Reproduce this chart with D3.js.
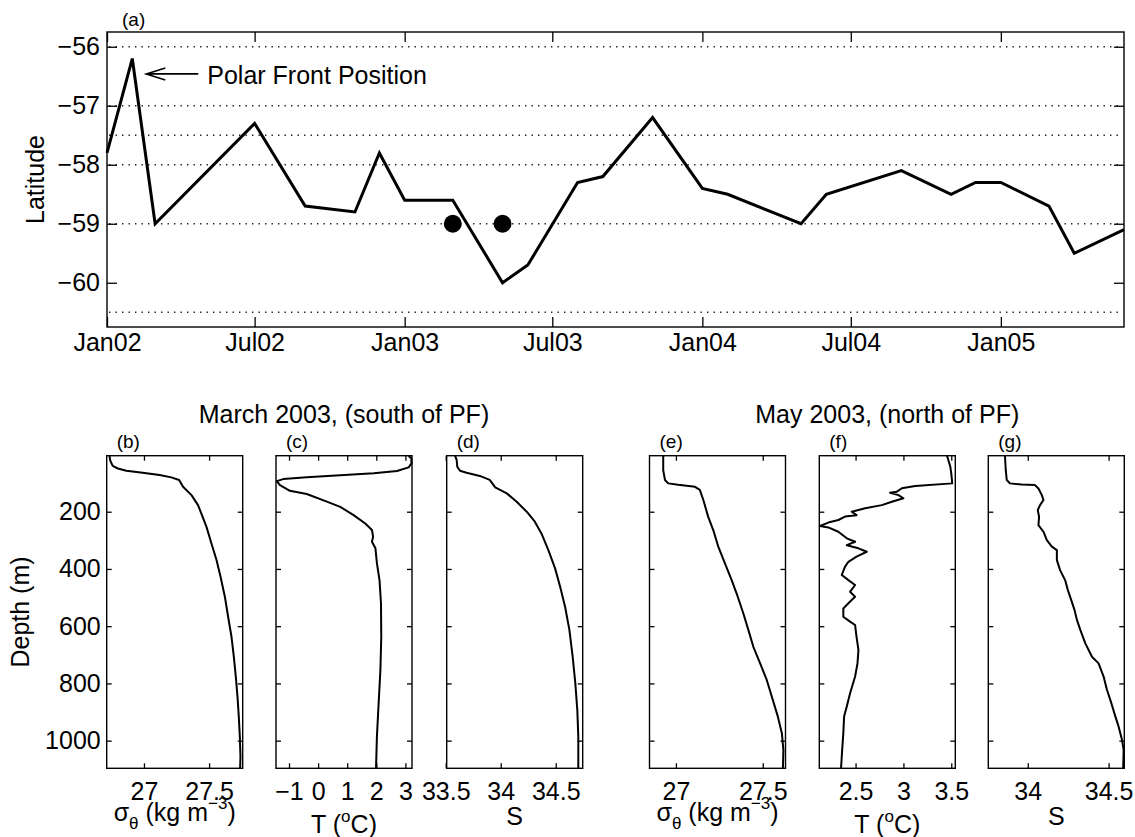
<!DOCTYPE html>
<html>
<head>
<meta charset="utf-8">
<script src="https://cdn.jsdelivr.net/npm/d3@7"></script>
<style>
  body { margin: 0; background: #fff; }
  text { font-family: "Liberation Sans", Arial, Helvetica, sans-serif; fill: #000; }
</style>
</head>
<body>
<div id="chart"></div>
<script>
// ---- (a) polar front position ----
const pfDates = ["2002-01-01","2002-02-01","2002-03-01","2002-07-01","2002-09-01","2002-11-01",
                 "2002-12-01","2003-01-01","2003-03-01","2003-05-01","2003-06-01","2003-08-01",
                 "2003-09-01","2003-11-01","2004-01-01","2004-02-01","2004-05-01","2004-06-01",
                 "2004-09-01","2004-11-01","2004-12-01","2005-01-01","2005-03-01","2005-04-01",
                 "2005-06-01"];
const pfLat = [-57.8, -56.2, -59.0, -57.3, -58.7, -58.8,
               -57.8, -58.6, -58.6, -60.0, -59.7, -58.3,
               -58.2, -57.2, -58.4, -58.5, -59.0, -58.5,
               -58.1, -58.5, -58.3, -58.3, -58.7, -59.5,
               -59.1];
const stationDates = ["2003-03-01", "2003-05-01"];
const stationLat = [-59, -59];
const gridLats = [-56, -57, -57.5, -58, -59, -60.5];
const latTicks = [-60, -59, -58, -57, -56];
const timeTicks = ["2002-01-01","2002-07-01","2003-01-01","2003-07-01","2004-01-01","2004-07-01","2005-01-01"];

// ---- March 2003 profiles (south of PF) ----
const bDepth = [4, 20, 40, 49, 57, 64, 72, 80, 89, 113, 142, 177, 206, 253, 311, 369, 427, 497, 567, 637, 707, 776, 846, 916, 986, 1056, 1097];
const bSigma = [26.736, 26.74, 26.76, 26.80, 26.865, 26.99, 27.12, 27.21, 27.27, 27.30, 27.365, 27.415, 27.44, 27.48, 27.518, 27.557, 27.588, 27.621, 27.646, 27.672, 27.69, 27.705, 27.718, 27.728, 27.736, 27.741, 27.738];

const cDepth = [5, 13, 31, 45, 58, 66, 73, 80, 86, 93, 107, 127, 138, 165, 183, 212, 241, 264, 287, 305, 328, 380, 439, 520, 637, 753, 869, 986, 1097];
const cTemp = [3.11, 3.20, 3.21, 3.11, 2.71, 1.91, 0.76, -0.39, -1.2, -1.42, -1.31, -0.97, -0.39, 0.30, 0.76, 1.22, 1.62, 1.85, 1.89, 1.85, 1.97, 2.02, 2.11, 2.16, 2.17, 2.14, 2.08, 2.02, 1.99];

const dDepth = [4, 20, 43, 57, 64, 75, 89, 115, 136, 165, 200, 235, 276, 334, 398, 462, 532, 613, 707, 800, 893, 986, 1097];
const dSal = [33.585, 33.60, 33.605, 33.63, 33.69, 33.81, 33.90, 33.95, 34.055, 34.145, 34.236, 34.31, 34.37, 34.433, 34.494, 34.54, 34.585, 34.624, 34.654, 34.678, 34.696, 34.705, 34.705];

// ---- May 2003 profiles (north of PF) ----
const eDepth = [4, 55, 89, 101, 106, 113, 124, 159, 218, 264, 322, 381, 439, 497, 555, 613, 672, 730, 788, 846, 916, 974, 1033, 1097];
const eSigma = [26.927, 26.927, 26.937, 26.956, 27.013, 27.11, 27.138, 27.158, 27.186, 27.215, 27.244, 27.283, 27.321, 27.356, 27.388, 27.417, 27.446, 27.485, 27.523, 27.552, 27.587, 27.61, 27.619, 27.616];

const fDepth = [4, 20, 43, 66, 101, 110, 118, 130, 134, 142, 153, 165, 177, 188, 200, 212, 217, 229, 238, 250, 255, 270, 293, 305, 317, 328, 340, 357, 375, 392, 421, 439, 456, 480, 497, 520, 538, 567, 584, 596, 637, 683, 730, 776, 835, 881, 916, 974, 1032, 1097];
const fTemp = [3.455, 3.47, 3.49, 3.50, 3.51, 3.123, 2.984, 2.931, 2.861, 2.948, 3.0, 2.879, 2.774, 2.60, 2.46, 2.51, 2.39, 2.32, 2.215, 2.128, 2.215, 2.32, 2.408, 2.495, 2.408, 2.53, 2.617, 2.51, 2.425, 2.39, 2.356, 2.425, 2.495, 2.442, 2.495, 2.425, 2.372, 2.372, 2.442, 2.495, 2.51, 2.53, 2.52, 2.495, 2.442, 2.408, 2.38, 2.372, 2.36, 2.348];

const gDepth = [4, 55, 89, 101, 105, 107, 119, 142, 159, 177, 194, 218, 247, 270, 299, 322, 334, 369, 404, 439, 474, 509, 543, 578, 613, 660, 707, 730, 776, 823, 869, 916, 951, 998, 1033, 1097];
const gSal = [33.859, 33.864, 33.87, 33.89, 33.963, 34.045, 34.066, 34.087, 34.097, 34.076, 34.062, 34.07, 34.066, 34.097, 34.118, 34.149, 34.18, 34.18, 34.2, 34.231, 34.248, 34.269, 34.289, 34.304, 34.325, 34.356, 34.397, 34.438, 34.469, 34.49, 34.517, 34.542, 34.562, 34.583, 34.593, 34.59];

const depthTicks = [200, 400, 600, 800, 1000];

const parse = d3.utcParse("%Y-%m-%d");
const numFmt = d3.format("");
const fs = 25;

const svg = d3.select("#chart").append("svg")
    .attr("width", 1135).attr("height", 837);

// ================= top panel =================
const topL = 107, topR = 1124, topT = 32, topB = 327;

const x = d3.scaleUtc()
    .domain([parse("2002-01-01"), parse("2005-06-01")])
    .range([topL, topR]);
const y = d3.scaleLinear().domain([-60.75, -55.75]).range([topB, topT]);

const topG = svg.append("g");

// dotted reference lines
topG.selectAll(".grid").data(gridLats).join("line")
    .attr("x1", topL + 2).attr("x2", topR - 2)
    .attr("y1", d => y(d)).attr("y2", d => y(d))
    .attr("stroke", "#222").attr("stroke-width", 1.4)
    .attr("stroke-dasharray", "1.4 5.1");

function styleAxis(g) {
    g.select(".domain").remove();
    g.selectAll("line").attr("stroke", "#000").attr("stroke-width", 1.3);
    g.attr("font-family", null);
}

topG.append("g").attr("transform", `translate(0,${topB})`)
    .call(d3.axisBottom(x).tickValues(timeTicks.map(parse))
        .tickFormat(d3.utcFormat("%b%y")).tickSizeInner(-10).tickSizeOuter(0).tickPadding(6))
    .call(styleAxis)
    .attr("font-size", fs);
topG.append("g").attr("transform", `translate(0,${topT})`)
    .call(d3.axisTop(x).tickValues(timeTicks.map(parse)).tickFormat("").tickSizeInner(-10).tickSizeOuter(0))
    .call(styleAxis);
topG.append("g").attr("transform", `translate(${topL},0)`)
    .call(d3.axisLeft(y).tickValues(latTicks).tickFormat(numFmt).tickSizeInner(-10).tickSizeOuter(0).tickPadding(7))
    .call(styleAxis)
    .attr("font-size", fs);
topG.append("g").attr("transform", `translate(${topR},0)`)
    .call(d3.axisRight(y).tickValues(latTicks).tickFormat("").tickSizeInner(-10).tickSizeOuter(0))
    .call(styleAxis);

topG.append("rect")
    .attr("x", topL).attr("y", topT).attr("width", topR - topL).attr("height", topB - topT)
    .attr("fill", "none").attr("stroke", "#000").attr("stroke-width", 1.4);

const pf = pfDates.map((d, i) => ({ date: parse(d), lat: pfLat[i] }));
topG.append("path")
    .datum(pf)
    .attr("fill", "none").attr("stroke", "#000").attr("stroke-width", 3)
    .attr("stroke-linejoin", "miter")
    .attr("d", d3.line().x(d => x(d.date)).y(d => y(d.lat)));

topG.selectAll(".station").data(stationDates).join("circle")
    .attr("cx", d => x(parse(d))).attr("cy", (d, i) => y(stationLat[i]))
    .attr("r", 9).attr("fill", "#000");

// arrow annotation pointing at the Feb 2002 peak
const tipX = x(parse("2002-02-01")) + 14, tipY = y(-56.46);
topG.append("path")
    .attr("d", `M${tipX + 52},${tipY}L${tipX},${tipY}M${tipX + 19},${tipY - 6}L${tipX},${tipY}L${tipX + 19},${tipY + 6}`)
    .attr("fill", "none").attr("stroke", "#000").attr("stroke-width", 1.6);
topG.append("text")
    .attr("x", tipX + 61).attr("y", tipY + 10)
    .attr("font-size", fs).text("Polar Front Position");

topG.append("text").attr("x", topL + 15).attr("y", 26).attr("font-size", 19).text("(a)");

topG.append("text")
    .attr("transform", `translate(44,${(topT + topB) / 2}) rotate(-90)`)
    .attr("text-anchor", "middle").attr("font-size", fs).text("Latitude");

// ================= profile panels =================
const pT = 455.7, pB = 768.3, pW = 136;
const yd = d3.scaleLinear().domain([4.3, 1096.6]).range([pT, pB]);

const panels = [
    { tag: "(b)", left: 106.7, depth: bDepth, val: bSigma, dom: [26.714, 27.758], ticks: [27, 27.5], lab: "sigma", labY: 821 },
    { tag: "(c)", left: 276,   depth: cDepth, val: cTemp,  dom: [-1.447, 3.226],  ticks: [-1, 0, 1, 2, 3], lab: "T", labY: 833 },
    { tag: "(d)", left: 446.7, depth: dDepth, val: dSal,   dom: [33.509, 34.745], ticks: [33.5, 34, 34.5], lab: "S", labY: 825 },
    { tag: "(e)", left: 649.5, depth: eDepth, val: eSigma, dom: [26.848, 27.631], ticks: [27, 27.5], lab: "sigma", labY: 821 },
    { tag: "(f)", left: 819.3, depth: fDepth, val: fTemp,  dom: [2.121, 3.542],   ticks: [2.5, 3, 3.5], lab: "T", labY: 833 },
    { tag: "(g)", left: 988.3, depth: gDepth, val: gSal,   dom: [33.756, 34.597], ticks: [34, 34.5], lab: "S", labY: 825 }
];

panels.forEach((p, k) => {
    const xs = d3.scaleLinear().domain(p.dom).range([p.left, p.left + pW]);
    const g = svg.append("g");

    g.append("g").attr("transform", `translate(0,${pB})`)
        .call(d3.axisBottom(xs).tickValues(p.ticks).tickFormat(numFmt).tickSizeInner(-5).tickSizeOuter(0).tickPadding(14))
        .call(styleAxis).attr("font-size", fs);
    g.append("g").attr("transform", `translate(0,${pT})`)
        .call(d3.axisTop(xs).tickValues(p.ticks).tickFormat("").tickSizeInner(-5).tickSizeOuter(0))
        .call(styleAxis);
    g.append("g").attr("transform", `translate(${p.left},0)`)
        .call(d3.axisLeft(yd).tickValues(depthTicks).tickFormat(k === 0 ? numFmt : "").tickSizeInner(-5).tickSizeOuter(0).tickPadding(6))
        .call(styleAxis).attr("font-size", fs);
    g.append("g").attr("transform", `translate(${p.left + pW},0)`)
        .call(d3.axisRight(yd).tickValues(depthTicks).tickFormat("").tickSizeInner(-5).tickSizeOuter(0))
        .call(styleAxis);

    g.append("rect")
        .attr("x", p.left).attr("y", pT).attr("width", pW).attr("height", pB - pT)
        .attr("fill", "none").attr("stroke", "#000").attr("stroke-width", 1.4);

    g.append("path")
        .datum(p.depth.map((d, i) => [p.val[i], d]))
        .attr("fill", "none").attr("stroke", "#000").attr("stroke-width", 2)
        .attr("stroke-linejoin", "round")
        .attr("d", d3.line().x(d => xs(d[0])).y(d => yd(d[1])));

    g.append("text").attr("x", p.left + 10).attr("y", 448).attr("font-size", 19).text(p.tag);

    const t = g.append("text").attr("x", p.left + pW / 2).attr("y", p.labY)
        .attr("text-anchor", "middle").attr("font-size", fs);
    if (p.lab === "sigma") {
        t.append("tspan").text("σ");
        t.append("tspan").attr("font-size", 17).attr("dy", 8).text("θ");
        t.append("tspan").attr("dy", -8).text(" (kg m");
        t.append("tspan").attr("font-size", 17).attr("dy", -12).text("−3");
        t.append("tspan").attr("dy", 12).text(")");
    } else if (p.lab === "T") {
        t.append("tspan").text("T (");
        t.append("tspan").attr("font-size", 17).attr("dy", -11).text("o");
        t.append("tspan").attr("dy", 11).text("C)");
    } else {
        t.text("S");
    }
});

svg.append("text")
    .attr("transform", `translate(29,${(pT + pB) / 2}) rotate(-90)`)
    .attr("text-anchor", "middle").attr("font-size", fs).text("Depth (m)");

svg.append("text").attr("x", 276 + pW / 2).attr("y", 423)
    .attr("text-anchor", "middle").attr("font-size", fs).text("March 2003, (south of PF)");
svg.append("text").attr("x", 819.3 + pW / 2).attr("y", 423)
    .attr("text-anchor", "middle").attr("font-size", fs).text("May 2003, (north of PF)");
</script>
</body>
</html>
